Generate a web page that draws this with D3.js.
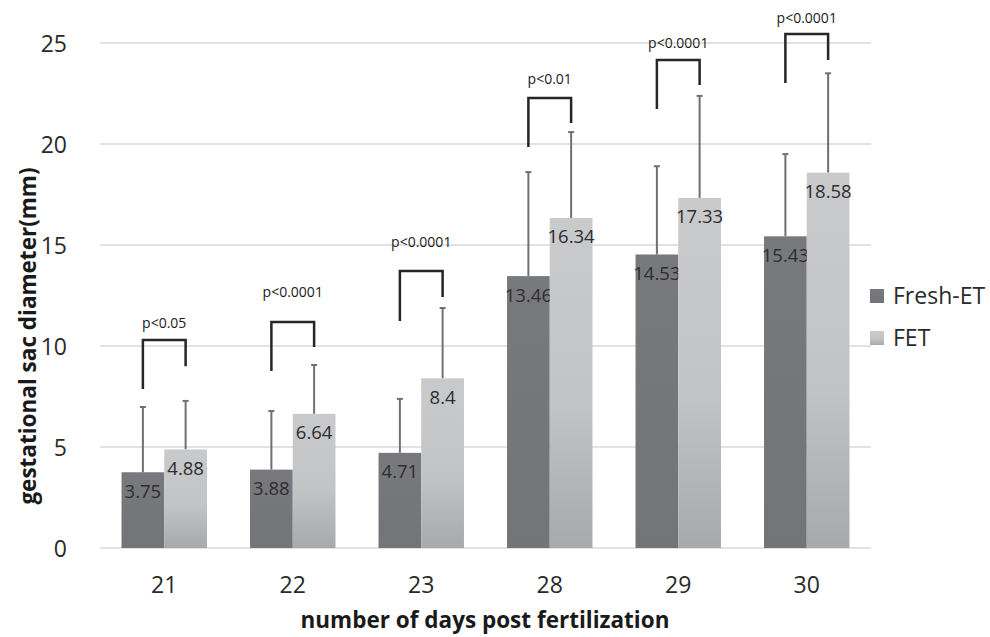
<!DOCTYPE html>
<html><head><meta charset="utf-8">
<script src="https://cdn.jsdelivr.net/npm/d3@7"></script>
<style>body{margin:0;background:#fff}svg{display:block}</style>
</head><body>
<script>
const categories = ["21","22","23","28","29","30"];
const seriesNames = ["Fresh-ET","FET"];
const freshMeans = [3.75,3.88,4.71,13.46,14.53,15.43];
const fetMeans = [4.88,6.64,8.4,16.34,17.33,18.58];
const freshSD = [3.23,2.9,2.67,5.15,4.37,4.07];
const fetSD = [2.4,2.42,3.48,4.25,5.05,4.92];
const pLabels = ["p<0.05","p<0.0001","p<0.0001","p<0.01","p<0.0001","p<0.0001"];
const bracketTop = [10.3,11.19,13.71,22.28,24.16,25.45];
const bracketLeftEnd = [7.87,8.76,11.24,19.85,21.73,23.02];
const bracketRightEnd = [9.0,9.95,12.43,21.04,22.92,24.16];
const pLabelY = [11.14,12.67,15.15,23.22,25.0,26.24];
const yTicks = [0,5,10,15,20,25];

const W=990,H=637;
const svg=d3.select("body").append("svg").attr("width",W).attr("height",H);
const defs=svg.append("defs");
const gF=defs.append("linearGradient").attr("id","gfet").attr("x1",0).attr("y1",0).attr("x2",0).attr("y2",1);
gF.append("stop").attr("offset","0%").attr("stop-color","#c9cacc");
gF.append("stop").attr("offset","55%").attr("stop-color","#c3c4c6");
gF.append("stop").attr("offset","100%").attr("stop-color","#a8a9ac");
const gD=defs.append("linearGradient").attr("id","gfresh").attr("x1",0).attr("y1",0).attr("x2",0).attr("y2",1);
gD.append("stop").attr("offset","0%").attr("stop-color","#78797d");
gD.append("stop").attr("offset","100%").attr("stop-color","#737478");

const font="'Open Sans', 'Noto Sans', sans-serif";
const x=d3.scaleBand().domain(categories).range([100,871]).paddingInner(0.335).paddingOuter(0.1675);
const xs=d3.scaleBand().domain(seriesNames).range([0,x.bandwidth()]);
const y=d3.scaleLinear().domain([0,25]).range([548,43]);

// gridlines
svg.append("g").selectAll("line").data(yTicks).join("line")
  .attr("x1",100).attr("x2",871).attr("y1",d=>y(d)).attr("y2",d=>y(d))
  .attr("stroke","#d9d9d9").attr("stroke-width",1.5);

// y axis labels
const yAxis=d3.axisLeft(y).tickValues(yTicks).tickSize(0).tickPadding(0);
const ya=svg.append("g").attr("transform","translate(67,0)").call(yAxis);
ya.select(".domain").remove();
ya.selectAll("text").attr("font-family",font).attr("font-size",23).attr("fill","#2a2a2a").attr("dy","0.35em");

// x axis labels
const xAxis=d3.axisBottom(x).tickSize(0).tickPadding(0);
const xa=svg.append("g").attr("transform","translate(0,585)").call(xAxis);
xa.select(".domain").remove();
xa.selectAll("text").attr("font-family",font).attr("font-size",23).attr("fill","#2a2a2a").attr("dy","0.35em");

const series=[
  {name:"Fresh-ET",means:freshMeans,sd:freshSD,fill:"url(#gfresh)"},
  {name:"FET",means:fetMeans,sd:fetSD,fill:"url(#gfet)"}
];
series.forEach(s=>{
  const g=svg.append("g");
  const data=categories.map((c,i)=>({c,v:s.means[i],e:s.sd[i]}));
  g.selectAll("line.err").data(data).join("line")
    .attr("x1",d=>x(d.c)+xs(s.name)+xs.bandwidth()/2)
    .attr("x2",d=>x(d.c)+xs(s.name)+xs.bandwidth()/2)
    .attr("y1",d=>y(d.v)).attr("y2",d=>y(d.v+d.e))
    .attr("stroke","#707070").attr("stroke-width",2);
  g.selectAll("line.cap").data(data).join("line")
    .attr("x1",d=>x(d.c)+xs(s.name)+xs.bandwidth()/2-3)
    .attr("x2",d=>x(d.c)+xs(s.name)+xs.bandwidth()/2+3)
    .attr("y1",d=>y(d.v+d.e)).attr("y2",d=>y(d.v+d.e))
    .attr("stroke","#707070").attr("stroke-width",2);
  g.selectAll("rect").data(data).join("rect")
    .attr("x",d=>x(d.c)+xs(s.name)).attr("width",xs.bandwidth())
    .attr("y",d=>y(d.v)).attr("height",d=>y(0)-y(d.v))
    .attr("fill",s.fill);
  g.selectAll("text").data(data).join("text")
    .attr("x",d=>x(d.c)+xs(s.name)+xs.bandwidth()/2)
    .attr("y",d=>y(d.v)+19).attr("dy","0.35em")
    .attr("text-anchor","middle").attr("font-family",font).attr("font-size",18.5)
    .attr("fill","#2e2e2e").text(d=>d.v);
});

// significance brackets
const bg=svg.append("g");
categories.forEach((c,i)=>{
  const xl=x(c)+xs("Fresh-ET")+xs.bandwidth()/2;
  const xr=x(c)+xs("FET")+xs.bandwidth()/2;
  bg.append("path")
    .attr("d",`M${xl},${y(bracketLeftEnd[i])}V${y(bracketTop[i])}H${xr}V${y(bracketRightEnd[i])}`)
    .attr("fill","none").attr("stroke","#262626").attr("stroke-width",2.5);
  bg.append("text").attr("x",(xl+xr)/2).attr("y",y(pLabelY[i])).attr("dy","0.35em")
    .attr("text-anchor","middle").attr("font-family",font).attr("font-size",14)
    .attr("fill","#1a1a1a").text(pLabels[i]);
});

// legend
const lg=svg.append("g");
series.forEach((s,i)=>{
  const yy=296+i*42;
  lg.append("rect").attr("x",870).attr("y",yy-7).attr("width",14).attr("height",14).attr("fill",s.fill);
  lg.append("text").attr("x",893).attr("y",yy).attr("dy","0.35em").attr("font-family",font)
    .attr("font-size",23).attr("fill","#2a2a2a").text(s.name);
});

// axis titles
svg.append("text").attr("x",485).attr("y",620).attr("dy","0.35em").attr("text-anchor","middle")
  .attr("font-family",font).attr("font-weight","bold").attr("font-size",22.5).attr("fill","#1a1a1a")
  .text("number of days post fertilization");
svg.append("text").attr("transform","translate(28,336) rotate(-90)").attr("dy","0.35em")
  .attr("text-anchor","middle").attr("font-family",font).attr("font-weight","bold")
  .attr("font-size",22.5).attr("fill","#1a1a1a").text("gestational sac diameter(mm)");
</script>
</body></html>
